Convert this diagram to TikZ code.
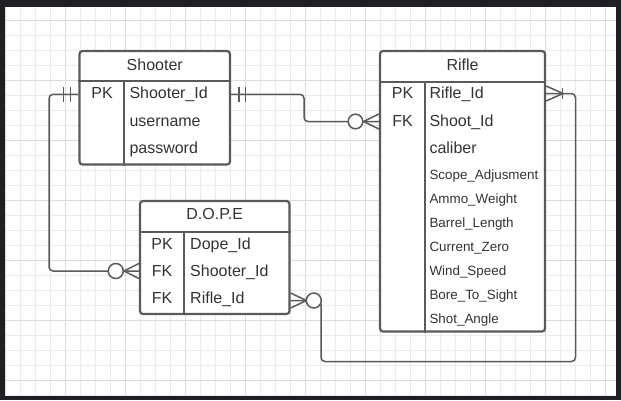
\documentclass[tikz,border=0pt]{standalone}
\usepackage{fontspec}
\setmainfont{Liberation Sans}
\definecolor{bg}{HTML}{1E2023}
\definecolor{gridminor}{HTML}{EBEBEB}
\definecolor{gridmajor}{HTML}{DCDCDC}
\definecolor{ln}{HTML}{5A5A5A}
\definecolor{txt}{HTML}{333333}
\begin{document}
\begin{tikzpicture}[x=1pt,y=-1pt,
  tbl/.style={draw=ln, line width=2.2pt, rounded corners=3pt, fill=white, inner sep=0pt},
  tblline/.style={draw=ln, line width=2pt},
  conn/.style={draw=ln, line width=1.5pt, rounded corners=4pt},
  crowmark/.style={draw=ln, line width=1.5pt},
  ring/.style={draw=ln, line width=1.5pt, fill=white},
  ertitle/.style={anchor=base, inner sep=0pt, text=txt, font=\fontsize{16}{19}\selectfont},
  erkey/.style={anchor=base, inner sep=0pt, text=txt, font=\fontsize{16}{19}\selectfont},
  erfield/.style={anchor=base west, inner sep=0pt, text=txt, font=\fontsize{16}{19}\selectfont},
  ersmall/.style={anchor=base west, inner sep=0pt, text=txt, font=\fontsize{13.4}{15}\selectfont}]
\useasboundingbox (0,0) rectangle (621,400);
\fill[bg] (0,0) rectangle (621,400);
\fill[white] (5,7) rectangle (616,395);
\begin{scope}
\clip (5,7) rectangle (616,395);
\foreach \i in {0,...,41} {\draw[gridminor, line width=0.9pt] ({5.7+15*\i},7) -- ({5.7+15*\i},395);}
\foreach \i in {0,...,26} {\draw[gridminor, line width=0.9pt] (5,{5+15*\i}) -- (616,{5+15*\i});}
\foreach \i in {0,...,10} {\draw[gridmajor, line width=0.9pt] ({5.7+60*\i},7) -- ({5.7+60*\i},395);}
\foreach \i in {0,...,6} {\draw[gridmajor, line width=0.9pt] (5,{20+60*\i}) -- (616,{20+60*\i});}
\end{scope}

% tables
\node[tbl, minimum width=150.5pt, minimum height=113.5pt] (shooter) at (154.75,107.75) {};
\node[tbl, minimum width=165pt, minimum height=280.5pt] (rifle) at (462.5,191.25) {};
\node[tbl, minimum width=149.5pt, minimum height=113pt] (dope) at (214.75,257.5) {};

\draw[tblline] (shooter.west |- 0,81) -- (shooter.east |- 0,81);
\draw[tblline] (124.3,81) -- (124.3,0 |- shooter.south);
\draw[tblline] (rifle.west |- 0,81.5) -- (rifle.east |- 0,81.5);
\draw[tblline] (424.6,81.5) -- (424.6,0 |- rifle.south);
\draw[tblline] (dope.west |- 0,231.5) -- (dope.east |- 0,231.5);
\draw[tblline] (184.3,231.5) -- (184.3,0 |- dope.south);

% texts
\node[ertitle] (tsh) at (154.75,70) {Shooter};
\node[erkey] (ksh1) at (102,98.3) {PK};
\node[erfield] (fsh1) at (129.3,98.3) {Shooter\_Id};
\node[erfield] (fsh2) at (129.3,126) {username};
\node[erfield] (fsh3) at (129.3,153.3) {password};

\node[ertitle] (tri) at (462.5,70) {Rifle};
\node[erkey] (kri1) at (402.5,98.3) {PK};
\node[erkey] (kri2) at (402.5,126) {FK};
\node[erfield] (fri1) at (429.3,98.3) {Rifle\_Id};
\node[erfield] (fri2) at (429.3,126) {Shoot\_Id};
\node[erfield] (fri3) at (429.3,153.3) {caliber};
\node[ersmall] (fri4) at (429.3,179.3) {Scope\_Adjusment};
\node[ersmall] (fri5) at (429.3,203.3) {Ammo\_Weight};
\node[ersmall] (fri6) at (429.3,227.3) {Barrel\_Length};
\node[ersmall] (fri7) at (429.3,251.3) {Current\_Zero};
\node[ersmall] (fri8) at (429.3,275.3) {Wind\_Speed};
\node[ersmall] (fri9) at (429.3,299.3) {Bore\_To\_Sight};
\node[ersmall] (fri10) at (429.3,323.3) {Shot\_Angle};

\node[ertitle] (tdo) at (214.75,219.3) {D.O.P.E};
\node[erkey] (kdo1) at (162,249) {PK};
\node[erkey] (kdo2) at (162,276.7) {FK};
\node[erkey] (kdo3) at (162,303.3) {FK};
\node[erfield] (fdo1) at (190,249) {Dope\_Id};
\node[erfield] (fdo2) at (190,276.7) {Shooter\_Id};
\node[erfield] (fdo3) at (190,303.3) {Rifle\_Id};

% connector 1: Shooter -> DOPE
\coordinate (c1a) at (49,94.3);
\coordinate (c1b) at (49,271);
\draw[conn] (shooter.west |- c1a) -- (c1a) -- (c1b) -- (dope.west |- c1b);
\draw[crowmark] (63.5,87) -- (63.5,102) (70.5,87) -- (70.5,102);
\draw[crowmark] (124,271) -- (dope.west |- 0,263.5) (124,271) -- (dope.west |- 0,278.5);
\draw[ring] (115.8,271) circle (7.5pt);

% connector 2: Shooter -> Rifle
\coordinate (c2a) at (304,94.3);
\coordinate (c2b) at (304,121.5);
\draw[conn] (shooter.east |- c2a) -- (c2a) -- (c2b) -- (rifle.west |- c2b);
\draw[crowmark] (239,87) -- (239,102) (245.7,87) -- (245.7,102);
\draw[crowmark] (363.5,121.5) -- (rifle.west |- 0,114) (363.5,121.5) -- (rifle.west |- 0,129);
\draw[ring] (355.5,121.5) circle (7.3pt);

% connector 3: DOPE -> Rifle
\coordinate (c3a) at (321,300.5);
\coordinate (c3b) at (321,361.5);
\coordinate (c3c) at (575.5,361.5);
\coordinate (c3d) at (575.5,93.5);
\draw[conn] (dope.east |- c3a) -- (c3a) -- (c3b) -- (c3c) -- (c3d) -- (rifle.east |- c3d);
\draw[crowmark] (306.5,300.5) -- (dope.east |- 0,293) (306.5,300.5) -- (dope.east |- 0,308);
\draw[ring] (313.8,300.5) circle (7.5pt);
\draw[crowmark] (563,93.5) -- (rifle.east |- 0,86) (563,93.5) -- (rifle.east |- 0,101);
\draw[crowmark] (562.5,88) -- (562.5,99);
\end{tikzpicture}
\end{document}
